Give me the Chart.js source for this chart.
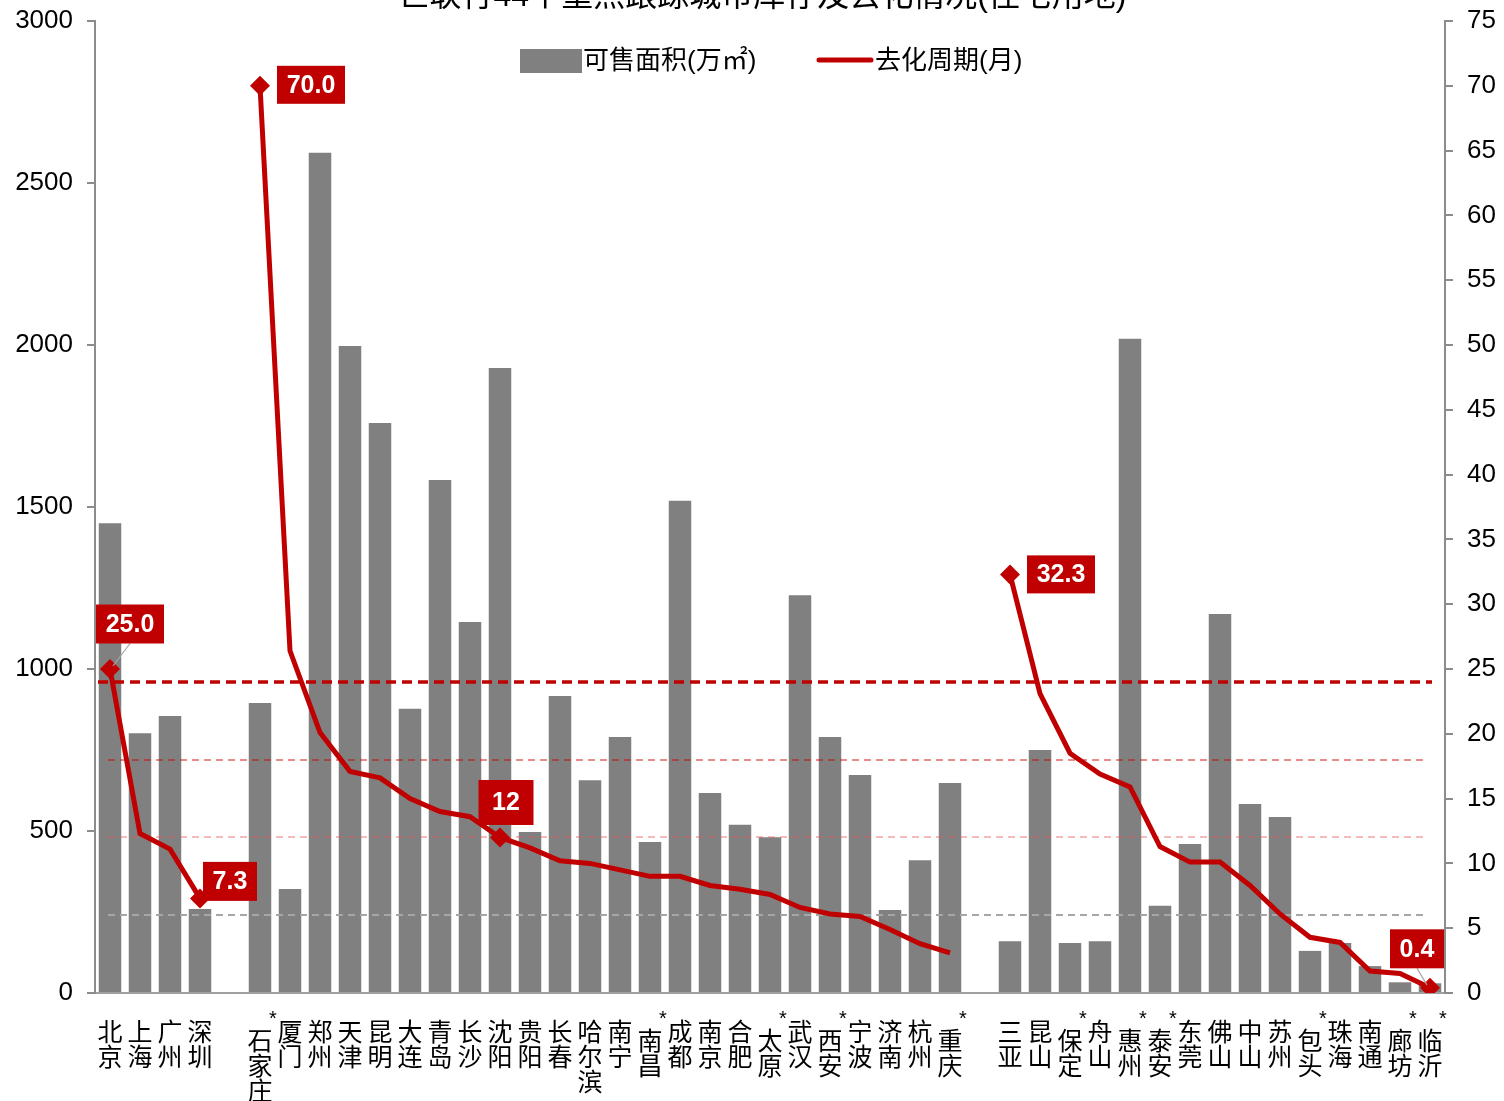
<!DOCTYPE html>
<html>
<head>
<meta charset="utf-8">
<script src="https://cdn.jsdelivr.net/npm/chart.js@4"></script>
<style>
  html, body { margin: 0; padding: 0; background: #fff; }
  canvas { display: block; }
</style>
</head>
<body>
<canvas id="chart" width="1504" height="1101"></canvas>
<script>
// 城市（空字符串 = 分组间隔）
const cities = ['北京', '上海', '广州', '深圳', '',
  '石家庄', '厦门', '郑州', '天津', '昆明', '大连', '青岛', '长沙', '沈阳', '贵阳', '长春', '哈尔滨',
  '南宁', '南昌', '成都', '南京', '合肥', '太原', '武汉', '西安', '宁波', '济南', '杭州', '重庆', '',
  '三亚', '昆山', '保定', '舟山', '惠州', '泰安', '东莞', '佛山', '中山', '苏州', '包头', '珠海',
  '南通', '廊坊', '临沂'];

// 带 * 的城市
const starred = ['石家庄', '南昌', '太原', '西安', '重庆', '保定', '惠州', '泰安', '包头', '廊坊', '临沂'];

// 可售面积(万㎡)
const saleArea = [1450, 802, 855, 259, null,
  895, 321, 2593, 1997, 1759, 877, 1583, 1145, 1929, 497, 917, 657,
  790, 466, 1519, 617, 519, 481, 1228, 790, 673, 256, 410, 648, null,
  160, 750, 154, 160, 2019, 269, 460, 1170, 583, 543, 130, 154,
  83, 33, 30];

// 去化周期(月)
const cycle = [25.0, 12.3, 11.1, 7.3, null,
  70.0, 26.4, 20.1, 17.1, 16.6, 15.0, 14.0, 13.6, 12.0, 11.2, 10.2, 10.0,
  9.5, 9.0, 9.0, 8.3, 8.0, 7.6, 6.6, 6.1, 5.9, 4.9, 3.8, 3.1, null,
  32.3, 23.1, 18.5, 16.9, 15.9, 11.3, 10.1, 10.1, 8.3, 6.1, 4.3, 3.9,
  1.7, 1.5, 0.4];

// 刻度
const leftTicks = { min: 0, max: 3000, step: 500 };
const rightTicks = { min: 0, max: 75, step: 5 };

// 参考线（右轴，月）
const refLines = [24, 18, 12, 6];

// 标注
const calloutIdx = [0, 3, 5, 13, 30, 44];
const calloutText = ['25.0', '7.3', '70.0', '12', '32.3', '0.4'];

const RED = '#c00000';
const GRAY = '#808080';
const NUM_FONT = '"Liberation Sans", Arial, sans-serif';
const CJK_FONT = '"Liberation Sans", "Noto Sans CJK SC", sans-serif';

// 参考线样式
const refStyle = [
  { color: RED, width: 3.5, dash: [10, 6], ext: [-12, 2] },
  { color: 'rgba(204,0,0,0.45)', width: 2, dash: [7, 5], ext: [-2, -2] },
  { color: 'rgba(225,90,90,0.4)', width: 2, dash: [7, 5], ext: [-2, -2] },
  { color: '#a6a6a6', width: 2, dash: [7, 5], ext: [-2, -2] }
];

// 标注框位置（相对数据点）
const calloutStyle = [
  { dx: 20, dy: -45, w: 68, h: 39, leader: true },
  { dx: 30, dy: -17, w: 54, h: 39 },
  { dx: 51, dy: -1, w: 68, h: 38 },
  { dx: 6, dy: -35, w: 55, h: 45 },
  { dx: 51, dy: 0, w: 68, h: 38 },
  { dx: -13, dy: -39, w: 54, h: 39, leader: true }
];

const refLinePlugin = {
  id: 'refLines',
  afterDatasetDraw(chart, args) {
    if (args.index !== 0) return;
    const { ctx } = chart;
    const x = chart.scales.x, y1 = chart.scales.y1;
    const x0 = x.getPixelForValue(0), x1 = x.getPixelForValue(cities.length - 1);
    ctx.save();
    refLines.forEach((v, i) => {
      const s = refStyle[i];
      const py = Math.round(y1.getPixelForValue(v));
      ctx.strokeStyle = s.color;
      ctx.lineWidth = s.width;
      ctx.setLineDash(s.dash);
      ctx.beginPath();
      ctx.moveTo(x0 + s.ext[0], py);
      ctx.lineTo(x1 + s.ext[1], py);
      ctx.stroke();
    });
    ctx.restore();
  }
};

const decorPlugin = {
  id: 'decor',
  afterDraw(chart) {
    const { ctx } = chart;
    const x = chart.scales.x, y1 = chart.scales.y1;

    // 标题（顶部被裁切）
    ctx.save();
    ctx.fillStyle = '#000';
    ctx.font = '32px ' + CJK_FONT;
    ctx.textAlign = 'center';
    ctx.textBaseline = 'middle';
    ctx.fillText('世联行44个重点跟踪城市库存及去化情况(住宅用地)', 762, -3);

    // 图例
    ctx.fillStyle = GRAY;
    ctx.fillRect(520, 49, 62, 24);
    ctx.fillStyle = '#000';
    ctx.font = '26px ' + CJK_FONT;
    ctx.textAlign = 'left';
    ctx.fillText(chart.data.datasets[0].label, 583, 62);
    ctx.strokeStyle = RED;
    ctx.lineWidth = 5;
    ctx.lineCap = 'round';
    ctx.beginPath();
    ctx.moveTo(819, 60);
    ctx.lineTo(871, 60);
    ctx.stroke();
    ctx.fillText(chart.data.datasets[1].label, 875, 62);

    // x 轴竖排标签
    ctx.font = '25px "Noto Sans CJK SC", sans-serif';
    ctx.textAlign = 'center';
    cities.forEach((c, i) => {
      if (!c) return;
      const px = x.getPixelForValue(i);
      const star = starred.includes(c);
      const top = star ? 1040 : 1031;
      [...c].forEach((ch, k) => ctx.fillText(ch, px, top + k * 25));
      if (star) {
        ctx.save();
        ctx.font = '20px ' + NUM_FONT;
        ctx.fillText('*', px + 13, 1019);
        ctx.restore();
      }
    });

    // 标注框
    ctx.font = 'bold 25px ' + NUM_FONT;
    calloutIdx.forEach((idx, k) => {
      const s = calloutStyle[k];
      const px = x.getPixelForValue(idx), py = y1.getPixelForValue(cycle[idx]);
      const cx = px + s.dx, cy = py + s.dy;
      if (s.leader) {
        ctx.strokeStyle = '#a6a6a6';
        ctx.lineWidth = 1.2;
        ctx.lineCap = 'butt';
        ctx.beginPath();
        ctx.moveTo(px + (s.dx > 0 ? 3 : -3), py - 3);
        ctx.lineTo(cx, cy + s.h / 2);
        ctx.stroke();
      }
      ctx.fillStyle = RED;
      ctx.fillRect(cx - s.w / 2, cy - s.h / 2, s.w, s.h);
      ctx.fillStyle = '#fff';
      ctx.fillText(calloutText[k], cx, cy + 1);
    });
    ctx.restore();
  }
};

const tickFont = { family: NUM_FONT, size: 26 };

// 去掉刻度标签对绘图区的额外留白
function fixY(width) {
  return s => { s.width = width; s.paddingTop = 0; s.paddingBottom = 0; };
}

new Chart(document.getElementById('chart'), {
  data: {
    labels: cities,
    datasets: [
      {
        type: 'bar',
        label: '可售面积(万㎡)',
        data: saleArea,
        yAxisID: 'y',
        backgroundColor: GRAY,
        barPercentage: 0.75,
        categoryPercentage: 1.0,
        order: 2
      },
      {
        type: 'line',
        label: '去化周期(月)',
        data: cycle,
        yAxisID: 'y1',
        borderColor: RED,
        borderWidth: 5,
        tension: 0,
        spanGaps: false,
        pointStyle: 'rectRot',
        pointRadius: ctx => calloutIdx.includes(ctx.dataIndex) ? 10 : 0,
        pointBackgroundColor: RED,
        pointBorderWidth: 0,
        order: 1
      }
    ]
  },
  options: {
    responsive: false,
    animation: false,
    layout: { padding: { top: 21 } },
    plugins: {
      legend: { display: false },
      title: { display: false },
      tooltip: { enabled: false }
    },
    scales: {
      x: {
        offset: true,
        grid: { display: false },
        border: { color: '#a0a0a0', width: 2 },
        ticks: { display: false },
        afterFit(s) { s.height = 108; s.paddingLeft = 0; s.paddingRight = 0; }
      },
      y: {
        position: 'left',
        min: leftTicks.min,
        max: leftTicks.max,
        ticks: { stepSize: leftTicks.step, font: tickFont, color: '#000', padding: 14, callback: v => String(v) },
        grid: { drawOnChartArea: false, tickLength: 8, color: '#8c8c8c', lineWidth: 2 },
        border: { color: '#8c8c8c', width: 2 },
        afterFit: fixY(95)
      },
      y1: {
        position: 'right',
        min: rightTicks.min,
        max: rightTicks.max,
        ticks: { stepSize: rightTicks.step, font: tickFont, color: '#000', padding: 14, callback: v => String(v) },
        grid: { drawOnChartArea: false, tickLength: 8, color: '#8c8c8c', lineWidth: 2 },
        border: { color: '#8c8c8c', width: 2 },
        afterFit: fixY(59)
      }
    }
  },
  plugins: [refLinePlugin, decorPlugin]
});
</script>
</body>
</html>
